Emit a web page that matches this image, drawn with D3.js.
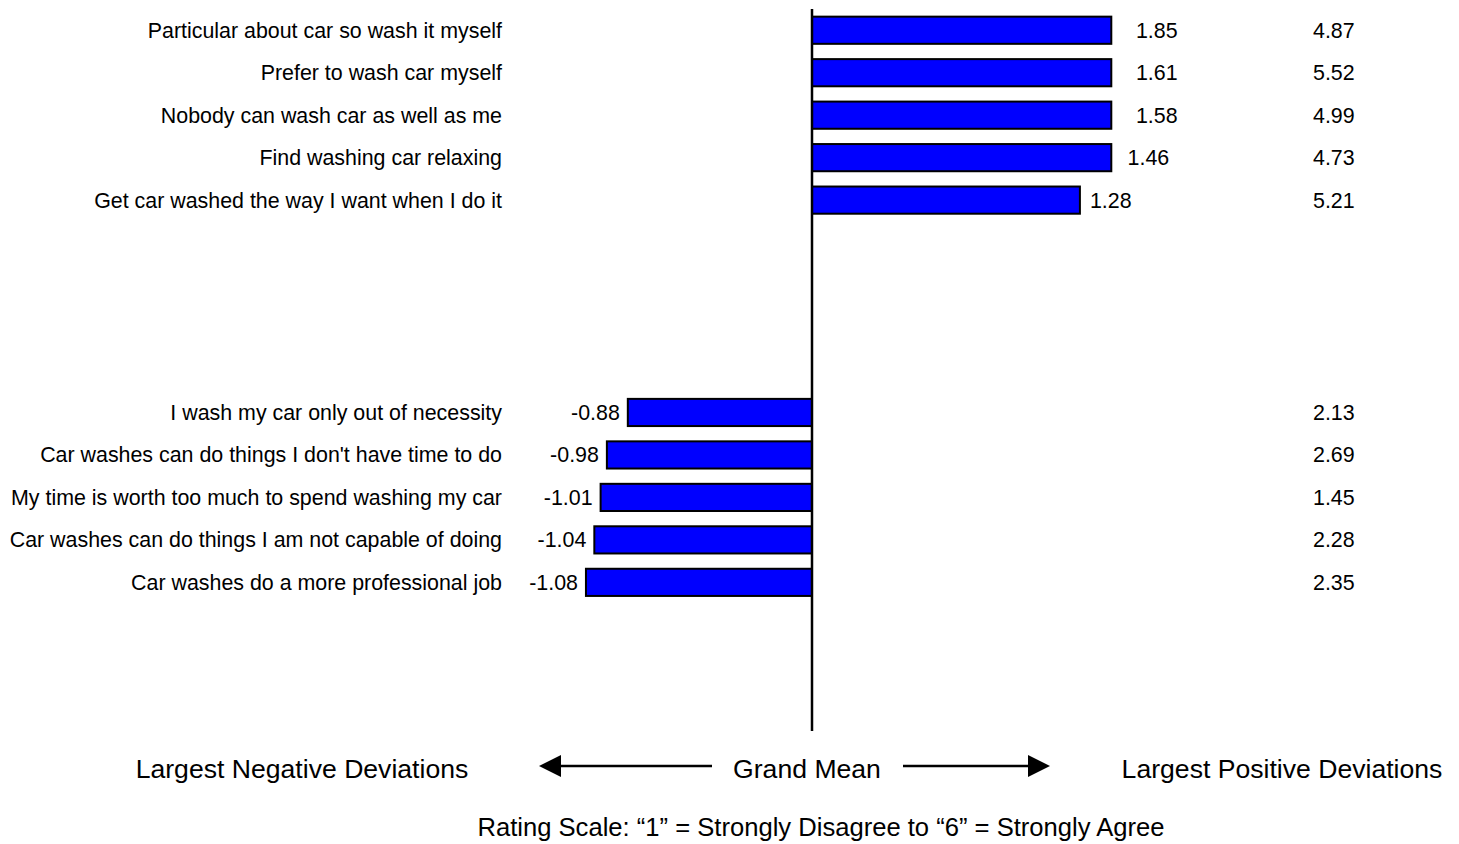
<!DOCTYPE html>
<html>
<head>
<meta charset="utf-8">
<script src="https://cdn.jsdelivr.net/npm/d3@7"></script>
<style>
  html, body { margin: 0; padding: 0; background: #fff; }
  svg { display: block; font-family: "Liberation Sans", Arial, sans-serif; }
</style>
</head>
<body>
<svg id="chart" width="1459" height="844"></svg>
<script>
// Statements with the largest deviations above the grand mean
const topStatements = [
  "Particular about car so wash it myself",
  "Prefer to wash car myself",
  "Nobody can wash car as well as me",
  "Find washing car relaxing",
  "Get car washed the way I want when I do it"
];
const topDeviations = [1.85, 1.61, 1.58, 1.46, 1.28];
const topMeans = [4.87, 5.52, 4.99, 4.73, 5.21];

// Statements with the largest deviations below the grand mean
const bottomStatements = [
  "I wash my car only out of necessity",
  "Car washes can do things I don't have time to do",
  "My time is worth too much to spend washing my car",
  "Car washes can do things I am not capable of doing",
  "Car washes do a more professional job"
];
const bottomDeviations = [-0.88, -0.98, -1.01, -1.04, -1.08];
const bottomMeans = [2.13, 2.69, 1.45, 2.28, 2.35];

// Axis limits: bars beyond the maximum are cut off at the plot edge
const axisMax = 1.43;
const labelCap = 1.5;

const footerLeft = "Largest Negative Deviations";
const footerCenter = "Grand Mean";
const footerRight = "Largest Positive Deviations";
const ratingNote = "Rating Scale: \u201c1\u201d = Strongly Disagree to \u201c6\u201d = Strongly Agree";

const svg = d3.select("#chart");
const fontSize = 21.4;
const fmt = d3.formatLocale({ decimal: ".", thousands: ",", grouping: [3], currency: ["", ""], minus: "-" }).format(".2f");

// Rows: top group, four empty rows, bottom group, three empty rows
const rows = [];
topStatements.forEach((s, i) => rows.push({ key: "t" + i, label: s, dev: topDeviations[i], mean: topMeans[i] }));
bottomStatements.forEach((s, i) => rows.push({ key: "b" + i, label: s, dev: bottomDeviations[i], mean: bottomMeans[i] }));
const gapKeys = d3.range(4).map(i => "gap" + i);
const tailKeys = d3.range(3).map(i => "tail" + i);
const domainKeys = [
  ...rows.slice(0, 5).map(r => r.key),
  ...gapKeys,
  ...rows.slice(5).map(r => r.key),
  ...tailKeys
];

const y = d3.scaleBand()
  .domain(domainKeys)
  .range([9, 731])
  .paddingInner(0.36)
  .paddingOuter(0.18);

const xRaw = d3.scaleLinear().domain([-axisMax, axisMax]).range([812 - 299.3, 1111.3]);
const x = xRaw.copy().clamp(true);

// Bars
svg.append("g").selectAll("rect")
  .data(rows)
  .join("rect")
  .attr("x", d => Math.min(x(0), x(d.dev)))
  .attr("y", d => y(d.key))
  .attr("width", d => Math.abs(x(d.dev) - x(0)))
  .attr("height", y.bandwidth())
  .attr("fill", "#0000ff")
  .attr("stroke", "#000")
  .attr("stroke-width", 2);

// Grand mean line
svg.append("line")
  .attr("x1", x(0)).attr("x2", x(0))
  .attr("y1", y.range()[0]).attr("y2", y.range()[1])
  .attr("stroke", "#000")
  .attr("stroke-width", 2.5);

const textG = svg.append("g")
  .attr("font-size", fontSize)
  .attr("fill", "#000");

// Statement labels
textG.selectAll("text.stmt")
  .data(rows)
  .join("text")
  .attr("class", "stmt")
  .attr("x", 502)
  .attr("y", d => y(d.key) + y.bandwidth() / 2)
  .attr("dy", "0.35em")
  .attr("text-anchor", "end")
  .text(d => d.label);

// Deviation value labels
textG.selectAll("text.dev")
  .data(rows)
  .join("text")
  .attr("class", "dev")
  .attr("x", d => d.dev >= 0 ? xRaw(Math.min(d.dev, labelCap)) + 10 : x(d.dev) - 8)
  .attr("y", d => y(d.key) + y.bandwidth() / 2)
  .attr("dy", "0.35em")
  .attr("text-anchor", d => d.dev >= 0 ? "start" : "end")
  .text(d => fmt(d.dev));

// Mean rating column
textG.selectAll("text.mean")
  .data(rows)
  .join("text")
  .attr("class", "mean")
  .attr("x", 1313)
  .attr("y", d => y(d.key) + y.bandwidth() / 2)
  .attr("dy", "0.35em")
  .text(d => fmt(d.mean));

// Footer with direction arrows
const footY = 769;
const arrowY = 766;
const footG = svg.append("g").attr("font-size", 26.6).attr("fill", "#000");
footG.append("text").attr("x", 302).attr("y", footY).attr("dy", "0.35em")
  .attr("text-anchor", "middle").text(footerLeft);
footG.append("text").attr("x", 807).attr("y", footY).attr("dy", "0.35em")
  .attr("text-anchor", "middle").text(footerCenter);
footG.append("text").attr("x", 1282).attr("y", footY).attr("dy", "0.35em")
  .attr("text-anchor", "middle").text(footerRight);

svg.append("line").attr("x1", 558).attr("x2", 712).attr("y1", arrowY).attr("y2", arrowY)
  .attr("stroke", "#000").attr("stroke-width", 2.5);
svg.append("path").attr("d", `M539,${arrowY} L561,${arrowY - 11} L561,${arrowY + 11} Z`).attr("fill", "#000");
svg.append("line").attr("x1", 903).attr("x2", 1031).attr("y1", arrowY).attr("y2", arrowY)
  .attr("stroke", "#000").attr("stroke-width", 2.5);
svg.append("path").attr("d", `M1050,${arrowY} L1028,${arrowY - 11} L1028,${arrowY + 11} Z`).attr("fill", "#000");

svg.append("text")
  .attr("x", 821).attr("y", 827).attr("dy", "0.35em")
  .attr("font-size", 25.6)
  .attr("text-anchor", "middle")
  .text(ratingNote);
</script>
</body>
</html>
